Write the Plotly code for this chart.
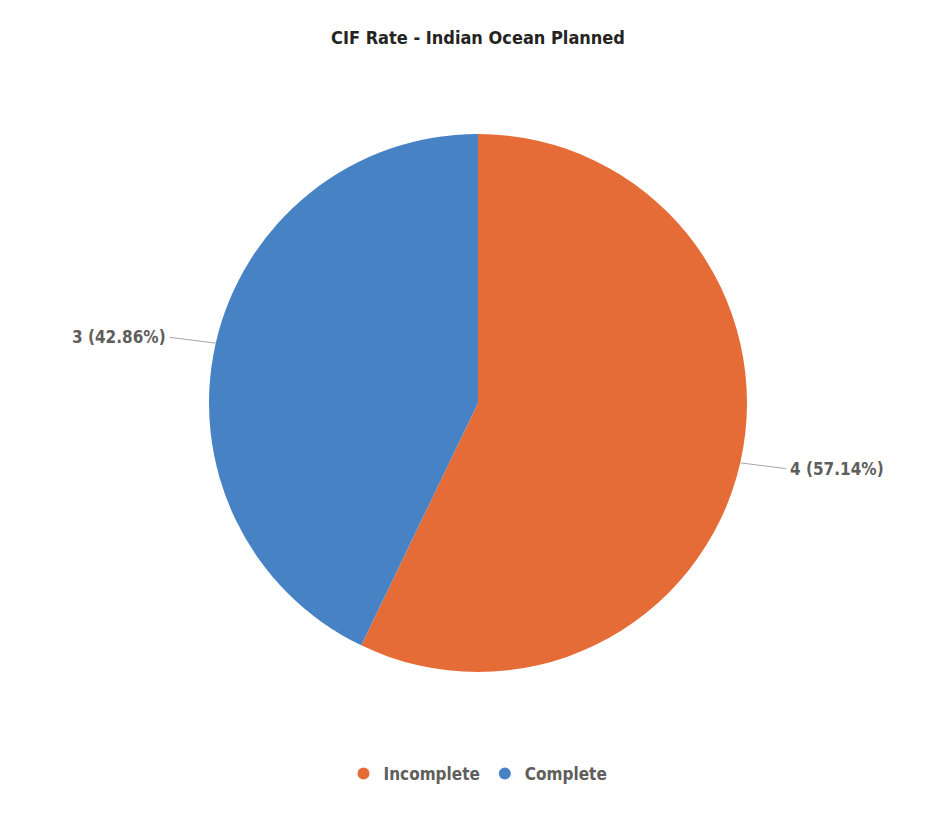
import math
import plotly.graph_objects as go

title = "CIF Rate - Indian Ocean Planned"
categories = ["Incomplete", "Complete"]
values = [4, 3]
colors = ["#E66C37", "#4682C4"]

OFF = 8  # page body margin
W, H = 937 - 2 * OFF, 825 - 2 * OFF
cx, cy, R = 478 - OFF, 403 - OFF, 269
FONT = "DejaVu Sans Condensed, Roboto, sans-serif"

dom_x = [(cx - R) / W, (cx + R) / W]
dom_y = [1 - (cy + R) / H, 1 - (cy - R) / H]

fig = go.Figure()
fig.add_trace(go.Pie(
    labels=categories, values=values, sort=False, direction="clockwise",
    rotation=0, marker=dict(colors=colors, line=dict(width=0)),
    textinfo="none", hoverinfo="label+value+percent", showlegend=False,
    domain=dict(x=dom_x, y=dom_y),
))

for name, col in zip(categories, colors):
    fig.add_trace(go.Scatter(x=[None], y=[None], mode="markers", name=f"<b>{name}</b>",
                             marker=dict(color=col, size=10, symbol="circle")))

total = sum(values)
start = 0.0
for v, col in zip(values, colors):
    frac = v / total
    mid = (start + frac / 2) * 2 * math.pi
    start += frac
    sx, sy = math.sin(mid), math.cos(mid)
    ex = cx + R * sx
    ey = cy - R * sy
    side = 1 if sx >= 0 else -1
    text = f"<b>{v} ({frac*100:.2f}%)</b>"
    fig.add_annotation(
        x=ex / W, y=1 - ey / H, xref="paper", yref="paper",
        text=text, showarrow=True, arrowhead=0, arrowwidth=1,
        arrowcolor="#A6A6A6", ax=side * 46, ay=-sy * 26,
        xanchor="left" if side > 0 else "right", yanchor="middle",
        font=dict(family=FONT, size=17, color="#605E5C"),
        standoff=0, startstandoff=0, borderpad=3,
    )

fig.update_layout(
    width=W, height=H,
    margin=dict(l=0, r=0, t=0, b=0),
    paper_bgcolor="white", plot_bgcolor="white",
    title=dict(text=f"<b>{title}</b>", x=(478 - OFF) / W, xanchor="center",
               y=1 - (38 - OFF) / H, yanchor="middle",
               font=dict(family=FONT, size=18, color="#252423")),
    legend=dict(orientation="h", x=(478 - OFF) / W, xanchor="center",
                y=1 - (774 - OFF) / H, yanchor="middle",
                font=dict(family=FONT, size=17, color="#605E5C"),
                itemsizing="constant", tracegroupgap=0, itemwidth=30),
    xaxis=dict(visible=False), yaxis=dict(visible=False),
)

fig.write_html("out.html")
